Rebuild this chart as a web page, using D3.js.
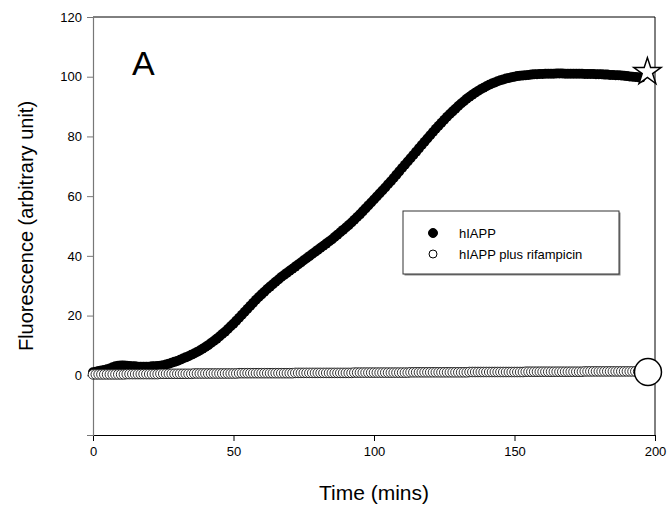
<!DOCTYPE html>
<html>
<head>
<meta charset="utf-8">
<script src="https://cdn.jsdelivr.net/npm/d3@7"></script>
<style>
  body { margin: 0; background: #fff; }
  text { font-family: "Liberation Sans", Arial, sans-serif; fill: #000; }
</style>
</head>
<body>
<div id="chart"></div>
<script>
// Fluorescence, one sample per minute starting at 0
const hIAPP = [
  1.0, 1.2, 1.4, 1.6, 1.8, 2.0, 2.3, 2.7, 3.0, 3.2,
  3.3, 3.3, 3.2, 3.1, 3.0, 3.0, 2.9, 2.9, 2.9, 2.9,
  2.9, 3.0, 3.0, 3.1, 3.2, 3.4, 3.6, 3.9, 4.2, 4.5,
  4.8, 5.2, 5.6, 6.0, 6.4, 6.9, 7.3, 7.8, 8.3, 8.9,
  9.5, 10.1, 10.8, 11.5, 12.2, 13.0, 13.8, 14.6, 15.5, 16.4,
  17.3, 18.3, 19.3, 20.3, 21.3, 22.3, 23.3, 24.3, 25.3, 26.2,
  27.1, 28.0, 28.9, 29.7, 30.5, 31.3, 32.1, 32.9, 33.6, 34.3,
  35.0, 35.7, 36.4, 37.1, 37.8, 38.5, 39.2, 39.9, 40.6, 41.3,
  42.0, 42.7, 43.4, 44.1, 44.8, 45.5, 46.3, 47.1, 47.9, 48.7,
  49.5, 50.3, 51.2, 52.1, 53.0, 53.9, 54.9, 55.9, 56.9, 57.9,
  58.9, 59.9, 60.9, 61.9, 62.9, 64.0, 65.0, 66.1, 67.2, 68.3,
  69.4, 70.5, 71.6, 72.7, 73.8, 74.9, 76.0, 77.1, 78.2, 79.3,
  80.4, 81.5, 82.6, 83.6, 84.6, 85.6, 86.6, 87.5, 88.4, 89.3,
  90.2, 91.0, 91.8, 92.6, 93.3, 94.0, 94.6, 95.2, 95.8, 96.3,
  96.8, 97.3, 97.7, 98.1, 98.5, 98.8, 99.1, 99.4, 99.6, 99.8,
  100.0, 100.2, 100.3, 100.4, 100.5, 100.6, 100.7, 100.8, 100.8, 100.9,
  100.9, 101.0, 101.0, 101.0, 101.0, 101.1, 101.1, 101.1, 101.0, 101.0,
  101.0, 101.0, 101.0, 101.0, 101.0, 100.9, 100.9, 100.9, 100.9, 100.8,
  100.8, 100.8, 100.7, 100.7, 100.6, 100.6, 100.5, 100.5, 100.4, 100.3,
  100.2, 100.1, 100.0, 99.9, 99.8, 99.7
];

const hIAPPRif = [
  0.3, 0.3, 0.3, 0.3, 0.3, 0.3, 0.3, 0.3, 0.3, 0.3,
  0.3, 0.3, 0.4, 0.4, 0.4, 0.4, 0.4, 0.4, 0.4, 0.4,
  0.4, 0.4, 0.4, 0.4, 0.5, 0.5, 0.5, 0.5, 0.5, 0.5,
  0.5, 0.5, 0.5, 0.5, 0.5, 0.5, 0.6, 0.6, 0.6, 0.6,
  0.6, 0.6, 0.6, 0.6, 0.6, 0.6, 0.6, 0.6, 0.6, 0.6,
  0.6, 0.6, 0.7, 0.7, 0.7, 0.7, 0.7, 0.7, 0.7, 0.7,
  0.7, 0.7, 0.7, 0.7, 0.7, 0.7, 0.7, 0.7, 0.7, 0.7,
  0.7, 0.7, 0.8, 0.8, 0.8, 0.8, 0.8, 0.8, 0.8, 0.8,
  0.8, 0.8, 0.8, 0.8, 0.8, 0.8, 0.8, 0.8, 0.8, 0.8,
  0.8, 0.8, 0.8, 0.9, 0.9, 0.9, 0.9, 0.9, 0.9, 0.9,
  0.9, 0.9, 0.9, 0.9, 0.9, 0.9, 0.9, 0.9, 0.9, 0.9,
  0.9, 0.9, 0.9, 1.0, 1.0, 1.0, 1.0, 1.0, 1.0, 1.0,
  1.0, 1.0, 1.0, 1.0, 1.0, 1.0, 1.0, 1.0, 1.0, 1.0,
  1.0, 1.0, 1.0, 1.0, 1.1, 1.1, 1.1, 1.1, 1.1, 1.1,
  1.1, 1.1, 1.1, 1.1, 1.1, 1.1, 1.1, 1.1, 1.1, 1.1,
  1.1, 1.1, 1.1, 1.1, 1.2, 1.2, 1.2, 1.2, 1.2, 1.2,
  1.2, 1.2, 1.2, 1.2, 1.2, 1.2, 1.2, 1.2, 1.2, 1.2,
  1.2, 1.2, 1.2, 1.2, 1.2, 1.3, 1.3, 1.3, 1.3, 1.3,
  1.3, 1.3, 1.3, 1.3, 1.3, 1.3, 1.3, 1.3, 1.3, 1.3,
  1.3, 1.3, 1.3, 1.3, 1.3, 1.3
];

// end-point markers: [minutes, value]
const starMark = [197.3, 101.6];
const bigCircleMark = [197.5, 1.1];

const xTicks = [0, 50, 100, 150, 200];
const yTicks = [-20, 0, 20, 40, 60, 80, 100, 120];
const legendLabels = ["hIAPP", "hIAPP plus rifampicin"];

const width = 669, height = 510;
const svg = d3.select("#chart").append("svg")
    .attr("width", width)
    .attr("height", height);

const x = d3.scaleLinear().domain([0, 200]).range([93, 655]);
const y = d3.scaleLinear().domain([-20, 120]).range([435, 17]);

// frame lines (top and right)
svg.append("line")
    .attr("x1", x(0)).attr("x2", x(200))
    .attr("y1", y(120)).attr("y2", y(120))
    .attr("stroke", "#000").attr("stroke-width", 1);
svg.append("line")
    .attr("x1", x(200)).attr("x2", x(200))
    .attr("y1", y(120)).attr("y2", y(-20))
    .attr("stroke", "#000").attr("stroke-width", 1);

// x axis
const xAxis = svg.append("g")
    .attr("transform", `translate(0,${y(-20)})`)
    .call(d3.axisBottom(x).tickValues(xTicks).tickSizeOuter(0).tickSize(6).tickPadding(6));
xAxis.select(".domain").attr("stroke", "#000");
xAxis.selectAll(".tick line").attr("stroke", "#000");
xAxis.selectAll("text")
    .attr("font-size", 13)
    .style("font-family", "Liberation Sans, Arial, sans-serif");

// y axis (grey in the original)
const yAxis = svg.append("g")
    .attr("transform", `translate(${x(0)},0)`)
    .call(d3.axisLeft(y).tickValues(yTicks).tickSizeOuter(0).tickSize(6).tickPadding(5)
        .tickFormat(d => d < 0 ? "" : d));
yAxis.select(".domain").attr("stroke", "#777").attr("stroke-width", 1.2);
yAxis.selectAll(".tick line").attr("stroke", "#777");
yAxis.selectAll("text")
    .attr("font-size", 13)
    .style("font-family", "Liberation Sans, Arial, sans-serif");

// axis titles
svg.append("text")
    .attr("x", (x(0) + x(200)) / 2)
    .attr("y", 500)
    .attr("text-anchor", "middle")
    .attr("font-size", 21)
    .text("Time (mins)");

svg.append("text")
    .attr("transform", `translate(33,${(y(120) + y(-20)) / 2}) rotate(-90)`)
    .attr("text-anchor", "middle")
    .attr("font-size", 20)
    .text("Fluorescence (arbitrary unit)");

// panel letter
svg.append("text")
    .attr("x", 132)
    .attr("y", 75)
    .attr("font-size", 34)
    .text("A");

// hIAPP series: dense filled circles
svg.append("g").selectAll("circle")
    .data(hIAPP)
    .join("circle")
    .attr("cx", (d, i) => x(i))
    .attr("cy", d => y(d))
    .attr("r", 5)
    .attr("fill", "#000");

// hIAPP plus rifampicin: dense open circles
svg.append("g").selectAll("circle")
    .data(hIAPPRif)
    .join("circle")
    .attr("cx", (d, i) => x(i))
    .attr("cy", d => y(d))
    .attr("r", 4.8)
    .attr("fill", "#fff")
    .attr("stroke", "#000")
    .attr("stroke-width", 0.8);

// end markers
svg.append("path")
    .attr("d", d3.symbol(d3.symbolStar, 230)())
    .attr("transform", `translate(${x(starMark[0])},${y(starMark[1])})`)
    .attr("fill", "#fff")
    .attr("stroke", "#000")
    .attr("stroke-width", 1.5);

svg.append("circle")
    .attr("cx", x(bigCircleMark[0]))
    .attr("cy", y(bigCircleMark[1]))
    .attr("r", 13.5)
    .attr("fill", "#fff")
    .attr("stroke", "#000")
    .attr("stroke-width", 1.5);

// legend
const lg = svg.append("g").attr("transform", "translate(403,211)");
lg.append("rect")
    .attr("x", 1.5).attr("y", 1.5)
    .attr("width", 216).attr("height", 63)
    .attr("fill", "#888");
lg.append("rect")
    .attr("x", 0).attr("y", 0)
    .attr("width", 216).attr("height", 63)
    .attr("fill", "#fff")
    .attr("stroke", "#333")
    .attr("stroke-width", 1);

const rows = lg.selectAll(".row")
    .data(legendLabels)
    .join("g")
    .attr("class", "row")
    .attr("transform", (d, i) => `translate(0,${22 + i * 21})`);
rows.append("circle")
    .attr("cx", 30)
    .attr("cy", 0)
    .attr("r", (d, i) => i === 0 ? 4.5 : 4)
    .attr("fill", (d, i) => i === 0 ? "#000" : "#fff")
    .attr("stroke", "#000")
    .attr("stroke-width", 1);
rows.append("text")
    .attr("x", 56)
    .attr("y", 0)
    .attr("dy", "0.35em")
    .attr("font-size", 13)
    .text(d => d);
</script>
</body>
</html>
